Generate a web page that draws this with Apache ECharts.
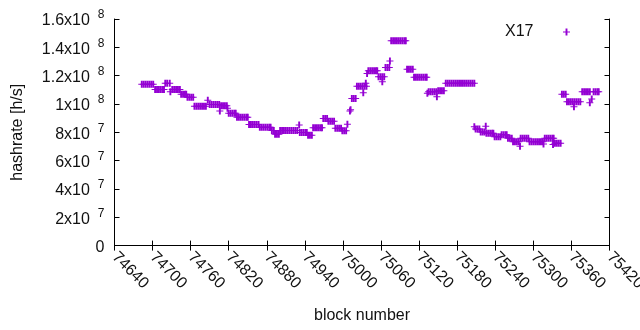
<!DOCTYPE html>
<html>
<head>
<meta charset="utf-8">
<script src="https://cdn.jsdelivr.net/npm/echarts@6/dist/echarts.min.js"></script>
<style>
  html, body { margin: 0; padding: 0; background: #fff; }
  #main { width: 640px; height: 330px; }
</style>
</head>
<body>
<div id="main"></div>
<script>
// block numbers (one line per run of equal estimates) and hashrate in MH/s
var blockNo = [
  74683, 74686, 74689, 74692, 74695, 74698, 74701,
  74704, 74707, 74710, 74713, 74716, 74718,
  74720, 74723, 74727,
  74728,
  74731, 74734, 74737, 74740, 74743,
  74745, 74748, 74751, 74753,
  74755, 74758, 74761, 74764,
  74766, 74769, 74772, 74775, 74778, 74781, 74784,
  74787,
  74790, 74793, 74796, 74799, 74802, 74805,
  74806,
  74808, 74811, 74814, 74817,
  74818,
  74820, 74823, 74826, 74829, 74831,
  74833, 74836, 74839, 74842, 74845, 74848, 74850,
  74852, 74855, 74858, 74861, 74864, 74867,
  74869, 74872, 74875, 74878, 74881, 74884, 74886,
  74888, 74891,
  74893, 74896, 74899,
  74901, 74904, 74907, 74910, 74913, 74916, 74919, 74922, 74925, 74928,
  74931,
  74932, 74935, 74938, 74941, 74943,
  74945, 74948, 74951,
  74953, 74956, 74959, 74962, 74965, 74967,
  74969, 74972, 74975,
  74977, 74980, 74983, 74986,
  74988, 74991, 74994, 74997,
  74999, 75002, 75005,
  75007, 75011, 75012,
  75014, 75017, 75020,
  75022, 75025, 75028, 75031, 75034, 75037,
  75032, 75036, 75038,
  75040, 75043, 75046, 75049, 75052, 75054,
  75056, 75059, 75062, 75065,
  75062,
  75067, 75070, 75073,
  75074,
  75076, 75079, 75082, 75085, 75088, 75091, 75094, 75097, 75099,
  75101, 75104, 75107, 75110,
  75112, 75115, 75118, 75121, 75124, 75127, 75130, 75132,
  75133,
  75135, 75138, 75141, 75144, 75147,
  75148,
  75150, 75153, 75156, 75159,
  75162, 75165, 75168, 75171, 75174, 75177, 75180, 75183, 75186, 75189, 75192, 75195, 75198, 75201, 75204, 75207,
  75207,
  75209, 75212, 75215,
  75217, 75220, 75223,
  75225,
  75226, 75229, 75232, 75235, 75237,
  75239, 75242, 75245, 75248,
  75250, 75253, 75256, 75258,
  75260, 75263, 75266,
  75268, 75271, 75274, 75277,
  75279,
  75280, 75283, 75286, 75289, 75292,
  75294, 75297, 75300, 75303, 75306, 75309, 75312, 75315,
  75316,
  75318, 75321, 75324, 75327, 75330, 75332,
  75331,
  75334, 75337, 75340, 75343,
  75345, 75348, 75351,
  75353, 75356, 75359, 75362, 75365, 75368, 75371, 75374,
  75364,
  75377, 75380, 75383, 75386, 75389,
  75389, 75392,
  75395, 75398, 75401, 75403
];
var hashMH = [
  113.9, 113.9, 113.9, 113.9, 113.9, 113.9, 113.9,
  110.3, 110.3, 110.3, 110.3, 110.3, 110.3,
  114.6, 114.6, 114.6,
  108.7,
  110.3, 110.3, 110.3, 110.3, 110.3,
  106.8, 106.8, 106.8, 106.8,
  104.7, 104.7, 104.7, 104.7,
  98.4, 98.4, 98.4, 98.4, 98.4, 98.4, 98.4,
  102.7,
  99.7, 99.7, 99.7, 99.7, 99.7, 99.7,
  95.0,
  98.8, 98.8, 98.8, 98.8,
  96.9,
  93.4, 93.4, 93.4, 93.4, 93.4,
  90.6, 90.6, 90.6, 90.6, 90.6, 90.6, 90.6,
  85.5, 85.5, 85.5, 85.5, 85.5, 85.5,
  83.5, 83.5, 83.5, 83.5, 83.5, 83.5, 83.5,
  81.3, 81.3,
  78.6, 78.6, 78.6,
  81.3, 81.3, 81.3, 81.3, 81.3, 81.3, 81.3, 81.3, 81.3, 81.3,
  85.1,
  79.8, 79.8, 79.8, 79.8, 79.8,
  77.9, 77.9, 77.9,
  83.2, 83.2, 83.2, 83.2, 83.2, 83.2,
  89.7, 89.7, 89.7,
  87.8, 87.8, 87.8, 87.8,
  82.8, 82.8, 82.8, 82.8,
  81.1, 81.1, 81.1,
  85.6, 95.0, 96.0,
  103.9, 103.9, 103.9,
  112.5, 112.5, 112.5, 112.5, 112.5, 112.5,
  108.0, 114.6, 121.6,
  123.5, 123.5, 123.5, 123.5, 123.5, 123.5,
  119.2, 119.2, 119.2, 119.2,
  115.7,
  125.7, 125.7, 125.7,
  130.3,
  144.7, 144.7, 144.7, 144.7, 144.7, 144.7, 144.7, 144.7, 144.7,
  124.5, 124.5, 124.5, 124.5,
  118.8, 118.8, 118.8, 118.8, 118.8, 118.8, 118.8, 118.8,
  107.5,
  108.7, 108.7, 108.7, 108.7, 108.7,
  105.1,
  109.4, 109.4, 109.4, 109.4,
  114.6, 114.6, 114.6, 114.6, 114.6, 114.6, 114.6, 114.6, 114.6, 114.6, 114.6, 114.6, 114.6, 114.6, 114.6, 114.6,
  84.0,
  82.3, 82.3, 82.3,
  80.2, 80.2, 80.2,
  84.2,
  79.3, 79.3, 79.3, 79.3, 79.3,
  76.8, 76.8, 76.8, 76.8,
  78.3, 78.3, 78.3, 78.3,
  75.8, 75.8, 75.8,
  73.4, 73.4, 73.4, 73.4,
  70.1,
  75.8, 75.8, 75.8, 75.8, 75.8,
  73.4, 73.4, 73.4, 73.4, 73.4, 73.4, 73.4, 73.4,
  71.7,
  75.8, 75.8, 75.8, 75.8, 75.8, 75.8,
  71.4,
  72.2, 72.2, 72.2, 72.2,
  106.8, 106.8, 106.8,
  101.6, 101.6, 101.6, 101.6, 101.6, 101.6, 101.6, 101.6,
  98.0,
  108.7, 108.7, 108.7, 108.7, 108.7,
  100.9, 103.5,
  108.7, 108.7, 108.7, 108.7
];

var plusMark = 'path://M0,3L7,3L7,4L0,4Z M2.55,0L4.45,0L4.45,7L2.55,7Z';
var font = 'Liberation Sans';

var points = blockNo.map(function (b, i) { return [b, hashMH[i] * 1e6]; });

function yLabel(v) {
  if (v === 0) return '{m|0}';
  var e = Math.floor(Math.log10(v) + 1e-9);
  var m = Math.round(v / Math.pow(10, e) * 10) / 10;
  return '{m|' + m + 'x10}{e|' + e + '}';
}

var tickStyle = { inside: true, length: 5, lineStyle: { color: '#000' } };
var lineStyle = { show: true, lineStyle: { color: '#000', width: 1 } };

var chart = echarts.init(document.getElementById('main'));
chart.setOption({
  animation: false,
  backgroundColor: '#fff',
  textStyle: { fontFamily: font },
  grid: { left: 114.5, right: 30.5, top: 19, bottom: 84.4, outerBoundsMode: 'none', containLabel: false },
  legend: {
    data: ['X17'],
    right: 70, top: 24, padding: 0,
    align: 'right',
    icon: plusMark,
    itemWidth: 56, itemHeight: 7,
    textStyle: { fontFamily: font, fontSize: 16, color: '#111' }
  },
  xAxis: [{
    type: 'value', min: 74640, max: 75420, interval: 60,
    name: 'block number', nameLocation: 'middle', nameGap: 62,
    nameTextStyle: { fontFamily: font, fontSize: 16, color: '#111' },
    axisLine: lineStyle, axisTick: tickStyle, splitLine: { show: false },
    axisLabel: {
      rotate: -45, margin: 9, fontFamily: font, fontSize: 16, color: '#111',
      formatter: function (v) { return String(v); }
    }
  }, {
    type: 'value', position: 'top', min: 74640, max: 75420, interval: 60,
    axisLine: lineStyle, axisTick: tickStyle, splitLine: { show: false },
    axisLabel: { show: false }
  }],
  yAxis: [{
    type: 'value', min: 0, max: 1.6e8, interval: 2e7,
    name: 'hashrate [h/s]', nameLocation: 'middle', nameGap: 89,
    nameTextStyle: { fontFamily: font, fontSize: 16, color: '#111' },
    axisLine: lineStyle, axisTick: tickStyle, splitLine: { show: false },
    axisLabel: {
      margin: 10, formatter: yLabel,
      rich: {
        m: { fontFamily: font, fontSize: 16, color: '#111', lineHeight: 20, verticalAlign: 'bottom' },
        e: { fontFamily: font, fontSize: 12, color: '#111', verticalAlign: 'top', padding: [0, 0, 0, 8] }
      }
    }
  }, {
    type: 'value', position: 'right', min: 0, max: 1.6e8, interval: 2e7,
    axisLine: lineStyle, axisTick: tickStyle, splitLine: { show: false },
    axisLabel: { show: false }
  }],
  series: [{
    name: 'X17',
    type: 'scatter',
    data: points,
    symbol: plusMark,
    symbolSize: 7,
    itemStyle: { color: '#9400d3', opacity: 1 }
  }]
});
</script>
</body>
</html>
